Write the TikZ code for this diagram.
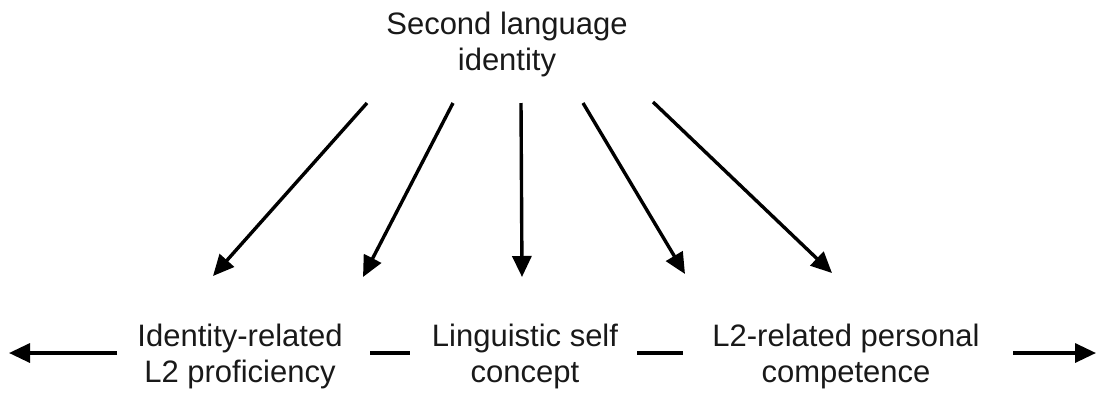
\documentclass[tikz,border=0pt]{standalone}
\usepackage{fontspec}
\setmainfont{Liberation Sans}
\usetikzlibrary{arrows.meta}
\begin{document}
\begin{tikzpicture}[x=1pt,y=-1pt,
  lbl/.style={align=center,inner sep=0pt,font=\fontsize{31}{36}\selectfont,text=black!90},
  conn/.style={line width=3.4pt,draw=black},
  arr/.style={conn,-{Triangle[length=21pt,width=19pt]}}]
\useasboundingbox (0,0) rectangle (1097,392);
\node[lbl] (top) at (507,44) {Second language\\identity};
\node[lbl] (l1) at (240,356) {Identity-related\\L2 proficiency};
\node[lbl] (l2) at (525,356) {Linguistic self\\concept};
\node[lbl] (l3) at (846,356) {L2-related personal\\competence};
% arrow starts and tips
\coordinate (s1) at (367,103); \coordinate (e1) at (213,276);
\coordinate (s2) at (453,103); \coordinate (e2) at (363,277);
\coordinate (s3) at (521,103); \coordinate (e3) at (522,277);
\coordinate (s4) at (583,103); \coordinate (e4) at (685,274);
\coordinate (s5) at (653,102); \coordinate (e5) at (832,273);
\draw[arr] (s1) -- (e1);
\draw[arr] (s2) -- (e2);
\draw[arr] (s3) -- (e3);
\draw[arr] (s4) -- (e4);
\draw[arr] (s5) -- (e5);
% bottom row
\coordinate (la) at (117,353); \coordinate (lb) at (9,353);
\coordinate (d1a) at (370,353); \coordinate (d1b) at (410,353);
\coordinate (d2a) at (637,353); \coordinate (d2b) at (683,353);
\coordinate (ra) at (1013,353); \coordinate (rb) at (1096,353);
\draw[arr] (la) -- (lb);
\draw[conn] (d1a) -- (d1b);
\draw[conn] (d2a) -- (d2b);
\draw[arr] (ra) -- (rb);
\end{tikzpicture}
\end{document}
